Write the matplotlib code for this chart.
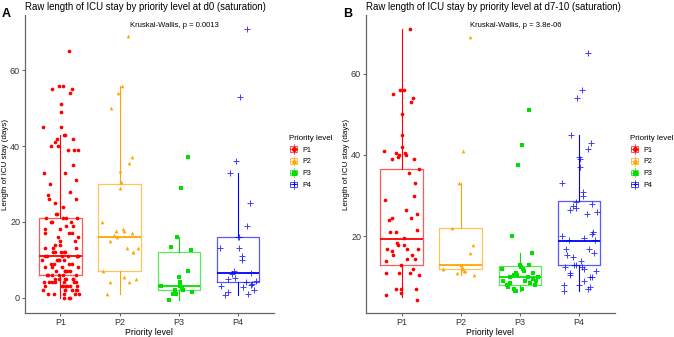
import numpy as np
import matplotlib.pyplot as plt
from matplotlib.lines import Line2D
from matplotlib.patches import Rectangle
from matplotlib.legend_handler import HandlerBase

plt.rcParams["font.family"] = ["Liberation Sans", "DejaVu Sans"]

# Data (length of ICU stay, days)
levels = ["P1", "P2", "P3", "P4"]
colors = ["#FF0000", "#FFA500", "#00E000", "#0000FF"]
markers = ["o", "^", "s", "+"]

# Panel A: d0
a_p1 = [65, 56, 56, 55, 55, 54, 51, 49, 45, 45, 43, 43, 42, 42, 41, 40, 40, 39, 39, 39,
        35, 33, 33, 31, 30, 28, 27, 26, 26, 25, 24, 22, 22, 21, 21, 21, 21, 20, 20, 20,
        19, 19, 18, 18, 17, 17, 17, 16, 16, 15, 15, 14, 14, 13, 13, 13, 12, 12, 12, 12,
        12, 11, 11, 11, 11, 11, 11, 11, 10, 10, 10, 10, 10, 9, 9, 9, 9, 8, 8, 8, 8, 7, 7,
        7, 7, 7, 6, 6, 6, 6, 6, 6, 5, 5, 5, 5, 5, 5, 4, 4, 4, 4, 4, 4, 4, 3, 3, 3, 3, 3,
        3, 3, 2, 2, 2, 2, 2, 2, 1, 1, 1, 1, 1, 0, 0, 0]
a_p2 = [69, 56, 54, 50, 37, 35.5, 33.5, 30.5, 29, 20, 18, 17.5, 17.5, 17, 16.5, 16, 15,
        13, 13, 12, 12, 7, 5.5, 5, 4, 4, 1]
a_p3 = [37, 29, 16, 13.5, 12.5, 7, 5.5, 4, 3, 3, 2.5, 2, 2, 1.5, 1, 1, -0.5]
a_p4 = [71, 53, 36, 33, 25, 19, 16, 16, 13, 13, 11, 10, 7, 6.5, 6.3, 5.3, 5, 4.5, 4,
        3.7, 3.3, 3, 2.8, 2, 1.5, 1, 0.8]
# box statistics (lower whisker, Q1, median, Q3, upper whisker)
a_whislo = [0, 1, -0.5, 0.8]
a_q1 = [6, 7, 2, 4]
a_med = [11, 16, 3, 6.5]
a_q3 = [21, 30, 12, 16]
a_whishi = [43, 56, 16, 33]

# Panel B: d7-10
b_p1 = [71, 56, 56, 55, 54, 53, 50, 45, 42, 41, 40.5, 40, 39.5, 39, 40.5, 40, 39, 36.5,
        35.5, 33, 30, 29, 26.5, 25.5, 24.5, 24.5, 24, 21.5, 21, 21, 19.5, 18.5, 18, 18,
        17, 17, 17, 16.5, 15.5, 15.5, 14.5, 14.5, 14, 13, 12, 11, 11, 11, 10.5, 7, 7, 7,
        6, 5.5, 4.5]
b_p2 = [69, 41, 33, 22, 18, 16, 13, 12.5, 12, 12, 11.5, 11.5, 11, 10.5]
b_p3 = [51, 42.5, 37.5, 20, 16, 13, 13, 12.5, 12.5, 12, 12, 11.5, 11, 11, 10.5, 10.5,
        10, 10, 10, 9.5, 9.5, 9, 9, 9, 8.5, 8.5, 8, 8, 7.5, 7, 7, 6.5, 6.5]
b_p4 = [65, 56, 54, 45, 43, 41.5, 39.5, 39, 37, 33, 31, 30, 28.5, 28, 27.5, 27, 26.5,
        26, 25.5, 21, 20.5, 20, 19.5, 19, 19, 17, 17, 16, 15.5, 15, 14, 13, 13, 12.5,
        12.5, 12, 11.5, 11, 10.5, 10, 10, 9, 8, 8, 7.5, 7, 6.5]
b_whislo = [5, 10.5, 6.5, 6.5]
b_q1 = [13.1, 11.9, 8.1, 12.9]
b_med = [19.4, 12.9, 10, 18.9]
b_q3 = [36.6, 22, 12.7, 28.6]
b_whishi = [71, 33, 16, 45]

panels = [
    ("A", "Raw length of ICU stay by priority level at d0 (saturation)",
     [a_p1, a_p2, a_p3, a_p4], a_whislo, a_q1, a_med, a_q3, a_whishi,
     "Kruskal-Wallis, p = 0.0013", [0.037, 0.071, 0.369, 0.884], [0, 20, 40, 60]),
    ("B", "Raw length of ICU stay by priority level at d7-10 (saturation)",
     [b_p1, b_p2, b_p3, b_p4], b_whislo, b_q1, b_med, b_q3, b_whishi,
     "Kruskal-Wallis, p = 3.8e-06", [0.543, 0.071, 0.369, 0.884], [20, 40, 60]),
]


class BoxHandler(HandlerBase):
    def create_artists(self, legend, orig_handle, xdescent, ydescent, width, height,
                       fontsize, trans):
        c = orig_handle.get_color()
        m = orig_handle.get_marker()
        x0, y0 = -xdescent, -ydescent
        cx, cy = x0 + width / 2, y0 + height / 2
        bw, bh = width * 0.8, height * 0.75
        rect = Rectangle((cx - bw / 2, cy - bh / 2), bw, bh, fill=False, ec=c,
                         lw=0.7, alpha=0.7, transform=trans)
        vl = Line2D([cx, cx], [y0 - height * 0.15, y0 + height * 1.15], color=c, lw=0.6,
                    alpha=0.7, transform=trans)
        hl = Line2D([cx - bw / 2, cx + bw / 2], [cy, cy], color=c, lw=0.7, alpha=0.7,
                    transform=trans)
        pt = Line2D([cx], [cy], marker=m, color=c, ms=2.8, mew=0.8, transform=trans)
        return [rect, vl, hl, pt]


def jitter(n, width=0.62):
    # deterministic scatter of horizontal offsets, like geom_jitter
    k = np.arange(n) + 1.0
    h = np.sin(k * 12.9898 + 78.233) * 43758.5453
    return (h - np.floor(h) - 0.5) * width


fig = plt.figure(figsize=(6.74, 3.37), dpi=100)

for letter, title, groups, whislo, q1, med, q3, whishi, kw, pos, yticks in panels:
    ax = fig.add_axes(pos)
    for i in range(4):
        st = dict(whislo=whislo[i], q1=q1[i], med=med[i], q3=q3[i],
                  whishi=whishi[i], fliers=[])
        ax.bxp([st], positions=[i + 1], widths=0.72, showfliers=False,
               showcaps=False,
               boxprops=dict(color=colors[i], lw=0.9, alpha=0.65),
               whiskerprops=dict(color=colors[i], lw=0.8),
               medianprops=dict(color=colors[i], lw=1.3))
        vals = np.asarray(groups[i], dtype=float)
        jit = jitter(len(vals))
        if markers[i] == "+":
            ax.scatter(i + 1 + jit, vals, marker="+", s=16, color=colors[i], lw=0.7,
                       zorder=3, alpha=0.75)
        else:
            ax.scatter(i + 1 + jit, vals, marker=markers[i], s=7, color=colors[i],
                       lw=0, zorder=3)
    allv = np.concatenate([np.asarray(g, dtype=float) for g in groups])
    lo, hi = allv.min(), allv.max()
    pad = 0.05 * (hi - lo)
    ax.set_ylim(lo - pad, hi + pad)
    ax.set_xlim(0.4, 4.6)
    ax.set_xticks(range(1, 5))
    ax.set_xticklabels(levels)
    ax.set_yticks(yticks)
    for s in ["top", "right"]:
        ax.spines[s].set_visible(False)
    for s in ["left", "bottom"]:
        ax.spines[s].set_color("#666666")
        ax.spines[s].set_linewidth(0.9)
    ax.tick_params(labelsize=6.5, length=2, width=0.6, color="#444444",
                   labelcolor="#333333", pad=1.5)
    ax.set_xlabel("Priority level", fontsize=6.2, labelpad=1)
    ax.set_ylabel("Length of ICU stay (days)", fontsize=5.8, labelpad=1)
    ax.text(2.93, 71.8, kw, fontsize=5.5, ha="center", va="center")
    ax.set_title(title, fontsize=6.9, loc="left", pad=4, x=0.0)
    fig.text(pos[0] - 0.034, 0.975, letter, fontsize=9, fontweight="bold",
             va="top", ha="left")

    handles = [Line2D([], [], color=colors[i], marker=markers[i]) for i in range(4)]
    fig.legend(handles, levels, handler_map={Line2D: BoxHandler()},
               loc="upper left", bbox_to_anchor=(pos[0] + pos[2] + 0.015, 0.615),
               frameon=False, fontsize=5.2, title="Priority level",
               title_fontsize=5.8, handlelength=1.3, handleheight=1.2,
               handletextpad=0.6, labelspacing=0.5, alignment="left",
               borderpad=0.2)

fig.savefig("out.png", dpi=100)
